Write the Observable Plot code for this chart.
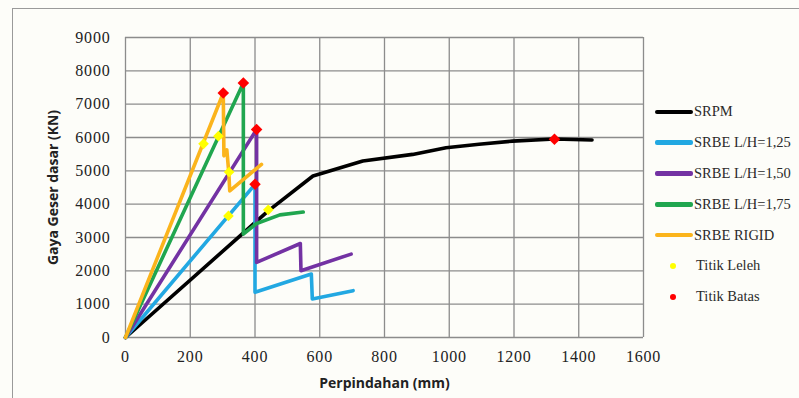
<!DOCTYPE html>
<html>
<head>
<meta charset="utf-8">
<script src="https://cdn.jsdelivr.net/npm/d3@7"></script>
<script src="https://cdn.jsdelivr.net/npm/@observablehq/plot@0.6"></script>
<style>
  body { margin: 0; background: #fdfdf9; }
  #wrap { position: relative; width: 799px; height: 398px; overflow: hidden; background: #fdfdf9; }
  #frame { position: absolute; left: 12px; top: 8px; width: 800px; height: 400px; border-left: 1.5px solid #9a9a9a; border-top: 1.5px solid #9a9a9a; pointer-events: none; }
  #chart { position: absolute; left: 0; top: 0; }
  #chart svg { background: transparent !important; }
  [aria-label="x-axis label"] text, [aria-label="y-axis label"] text {
    font-family: "Open Sans", sans-serif !important; font-weight: bold; font-size: 14px !important; fill: #222;
  }
  [aria-label="x-axis tick label"] text, [aria-label="y-axis tick label"] text {
    fill: #222; font-family: "Liberation Serif", "DejaVu Serif", serif !important; font-size: 16px !important; letter-spacing: 0.8px;
  }
  #legend { position: absolute; left: 655px; top: 96.5px; font-family: "Liberation Serif", "DejaVu Serif", serif; font-size: 14.5px; color: #2a2a2a; }
  .row { height: 30.8px; display: flex; align-items: center; }
  .sw { width: 38px; height: 4.5px; border-radius: 2px; margin-right: 1px; }
  .pt { width: 6px; height: 6px; border-radius: 50%; margin-left: 15px; margin-right: 20px; }
</style>
</head>
<body>
<div id="wrap">
  <div id="chart"></div>
  <div id="frame"></div>
  <div id="legend"></div>
</div>
<script>
// Series names and colours
const seriesNames = ["SRPM", "SRBE L/H=1,25", "SRBE L/H=1,50", "SRBE L/H=1,75", "SRBE RIGID"];
const seriesColors = ["#000000", "#22a8e2", "#7332a3", "#20a64f", "#fbb41c"];

// Displacement (mm) / base shear (kN) per series
const srpmX   = [0, 441, 579, 733, 887, 990, 1092, 1195, 1325, 1441];
const srpmY   = [0, 3800, 4844, 5293, 5493, 5690, 5800, 5891, 5955, 5925];
const lh125X  = [0, 400, 400, 574, 577, 703];
const lh125Y  = [0, 4596, 1355, 1904, 1157, 1405];
const lh150X  = [0, 405, 405, 540, 542, 697];
const lh150Y  = [0, 6240, 2252, 2820, 2004, 2502];
const lh175X  = [0, 364, 364, 405, 477, 549];
const lh175Y  = [0, 7635, 3100, 3420, 3678, 3765];
const rigidX  = [0, 302, 304, 313, 319, 322, 420];
const rigidY  = [0, 7335, 5450, 5630, 4950, 4400, 5195];

// Yield points (Titik Leleh) and ultimate points (Titik Batas)
const lelehX = [241, 287, 320, 318, 441];
const lelehY = [5810, 6040, 4964, 3648, 3830];
const batasX = [302, 364, 405, 400, 1325];
const batasY = [7335, 7635, 6240, 4596, 5950];

// Ticks
const xTicks = [0, 200, 400, 600, 800, 1000, 1200, 1400, 1600];
const yTicks = [0, 1000, 2000, 3000, 4000, 5000, 6000, 7000, 8000, 9000];

const pointLabels = ["Titik Leleh", "Titik Batas"];
const pointColors = ["#ffff00", "#ff0000"];

const seriesX = [srpmX, lh125X, lh150X, lh175X, rigidX];
const seriesY = [srpmY, lh125Y, lh150Y, lh175Y, rigidY];
const lineRows = [];
seriesNames.forEach((name, i) => {
  seriesX[i].forEach((x, j) => lineRows.push({series: name, x, y: seriesY[i][j]}));
});
const leleh = lelehX.map((x, i) => ({x, y: lelehY[i]}));
const batas = batasX.map((x, i) => ({x, y: batasY[i]}));

const plot = Plot.plot({
  width: 799,
  height: 398,
  marginLeft: 125,
  marginRight: 156,
  marginTop: 37,
  marginBottom: 61,
  style: {background: "transparent"},
  x: {domain: [0, 1600]},
  y: {domain: [0, 9000]},
  color: {domain: seriesNames, range: seriesColors},
  marks: [
    Plot.gridX(xTicks, {stroke: "#8c8c8c", strokeOpacity: 1, strokeWidth: 1.3}),
    Plot.gridY(yTicks, {stroke: "#8c8c8c", strokeOpacity: 1, strokeWidth: 1.3}),
    Plot.axisX(xTicks, {tickSize: 0, tickPadding: 13, tickFormat: d3.format("d"),
      label: "Perpindahan (mm)", labelAnchor: "center", labelOffset: 50, labelArrow: "none"}),
    Plot.axisY(yTicks, {tickSize: 0, tickPadding: 15, tickFormat: d3.format("d"),
      label: "Gaya Geser dasar (KN)", labelAnchor: "center", labelOffset: 77, labelArrow: "none"}),
    Plot.line(lineRows, {x: "x", y: "y", z: "series", stroke: "series", strokeWidth: 3.6, strokeLinejoin: "round"}),
    Plot.dot(leleh, {x: "x", y: "y", symbol: "diamond2", r: 4.8, fill: pointColors[0], stroke: "none"}),
    Plot.dot(batas, {x: "x", y: "y", symbol: "diamond2", r: 5.2, fill: pointColors[1], stroke: "none"})
  ]
});
document.getElementById("chart").appendChild(plot);

// Legend
const legend = document.getElementById("legend");
seriesNames.forEach((name, i) => {
  const row = document.createElement("div");
  row.className = "row";
  row.innerHTML = `<div class="sw" style="background:${seriesColors[i]}"></div><span>${name}</span>`;
  legend.appendChild(row);
});
pointLabels.forEach((name, i) => {
  const row = document.createElement("div");
  row.className = "row";
  row.innerHTML = `<div class="pt" style="background:${pointColors[i]}"></div><span>${name}</span>`;
  legend.appendChild(row);
});
</script>
</body>
</html>
